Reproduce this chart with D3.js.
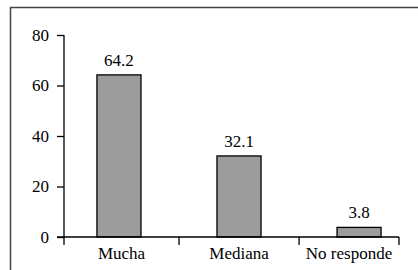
<!DOCTYPE html>
<html>
<head>
<meta charset="utf-8">
<script src="https://cdn.jsdelivr.net/npm/d3@7"></script>
<style>
  body { margin: 0; background: #fff; }
</style>
</head>
<body>
<div id="wrapper"></div>
<script>
const categories = ["Mucha", "Mediana", "No responde"];
const values = [64.2, 32.1, 3.8];
const yTicks = [0, 20, 40, 60, 80];

function buildPlot() {
    const dimension = {
        width: 418,
        height: 270,
        margin: { top: 35, left: 64, bottom: 33, right: 0 }
    };
    const zeroY = dimension.height - dimension.margin.bottom; // 237
    const axisEnd = 399;
    const font = "'Liberation Serif', 'Times New Roman', 'Liberation Sans', sans-serif";

    const svg = d3.select("#wrapper").append("svg")
        .attr("width", dimension.width)
        .attr("height", dimension.height)
        .attr("font-family", font);

    // outer frame (right and bottom edges fall outside the picture)
    svg.append("rect")
        .attr("x", 10.5).attr("y", 7.5)
        .attr("width", 420).attr("height", 280)
        .attr("fill", "none")
        .attr("stroke", "#444")
        .attr("stroke-width", 1.5);

    const xScale = d3.scaleBand()
        .domain(categories)
        .range([59, 419])
        .paddingInner(0.633)
        .paddingOuter(0.316);

    const yScale = d3.scaleLinear()
        .domain([0, 80])
        .range([zeroY, dimension.margin.top]);

    // y axis
    const yAxis = svg.append("g")
        .attr("transform", `translate(${dimension.margin.left},0)`)
        .call(d3.axisLeft(yScale).tickValues(yTicks).tickSize(7).tickPadding(8));
    yAxis.attr("font-family", font).attr("font-size", 17);
    yAxis.select(".domain").remove();
    yAxis.append("line")
        .attr("x1", 0).attr("x2", 0)
        .attr("y1", yScale(80)).attr("y2", zeroY + 8)
        .attr("stroke", "#000").attr("stroke-width", 1.3);
    yAxis.selectAll(".tick line").attr("stroke", "#000").attr("stroke-width", 1.3);
    yAxis.selectAll(".tick text").attr("fill", "#000");

    // bars
    svg.selectAll("rect.bar")
        .data(values)
        .join("rect")
        .attr("class", "bar")
        .attr("x", (d, i) => xScale(categories[i]))
        .attr("y", d => yScale(d))
        .attr("width", xScale.bandwidth())
        .attr("height", d => zeroY - yScale(d))
        .attr("fill", "#9c9c9c")
        .attr("stroke", "#000")
        .attr("stroke-width", 1.3);

    // value labels
    svg.selectAll("text.val")
        .data(values)
        .join("text")
        .attr("class", "val")
        .attr("x", (d, i) => xScale(categories[i]) + xScale.bandwidth() / 2)
        .attr("y", d => yScale(d) - 9)
        .attr("text-anchor", "middle")
        .attr("font-size", 17)
        .text(d => d.toFixed(1));

    // x axis line and category separators
    svg.append("line")
        .attr("x1", 57).attr("x2", axisEnd)
        .attr("y1", zeroY).attr("y2", zeroY)
        .attr("stroke", "#000").attr("stroke-width", 1.3);

    const step = xScale.step();
    const bounds = categories.map((c, i) => {
        const start = i === 0 ? dimension.margin.left : 59 + step * i;
        const end = Math.min(59 + step * (i + 1), axisEnd);
        return [start, end];
    });
    const sepX = bounds.slice(1).map(b => b[0]).concat([axisEnd]);
    svg.selectAll("line.sep")
        .data(sepX)
        .join("line")
        .attr("class", "sep")
        .attr("x1", d => d).attr("x2", d => d)
        .attr("y1", zeroY).attr("y2", zeroY + 8)
        .attr("stroke", "#000").attr("stroke-width", 1.3);

    svg.selectAll("text.cat")
        .data(categories)
        .join("text")
        .attr("class", "cat")
        .attr("x", (d, i) => (bounds[i][0] + bounds[i][1]) / 2)
        .attr("y", zeroY + 22)
        .attr("text-anchor", "middle")
        .attr("font-size", 17)
        .text(d => d);
}

buildPlot();
</script>
</body>
</html>
